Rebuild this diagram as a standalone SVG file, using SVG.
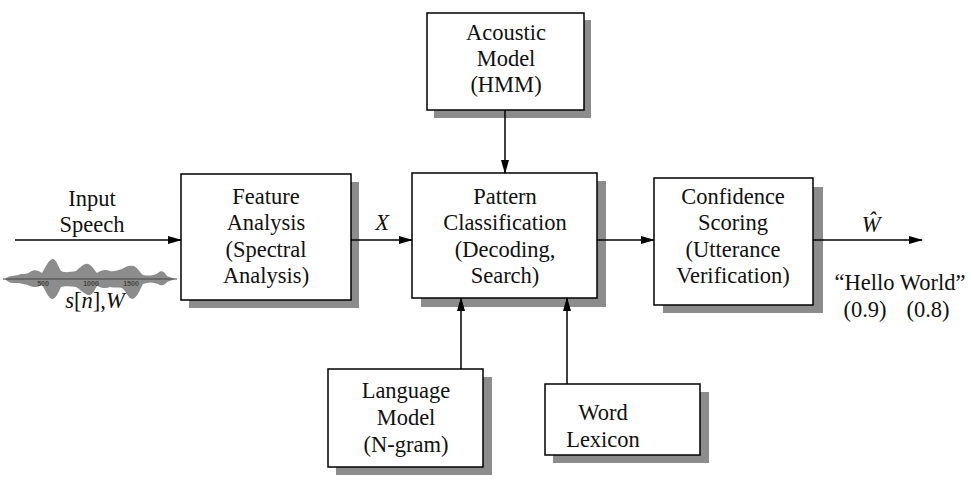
<svg xmlns="http://www.w3.org/2000/svg" width="973" height="480" viewBox="0 0 973 480">
<style>
.box{fill:#fff;stroke:#000;stroke-width:1.5}
.sh{fill:#8c8c8c}
.t{font-family:"Liberation Serif","Times New Roman",serif;font-size:22.5px;fill:#111;text-anchor:middle}
.i{font-style:italic}
.ln{stroke:#000;stroke-width:1.5;fill:none}
.wn{font-family:"Liberation Sans",Arial,sans-serif;font-size:7px;fill:#444;text-anchor:middle;font-weight:bold}
</style>
<defs>
<marker id="ah" markerWidth="14" markerHeight="10" refX="13" refY="5" orient="auto" markerUnits="userSpaceOnUse">
<path d="M0,1 L14,5 L0,9 Z" fill="#000"/>
</marker>
</defs>
<rect width="973" height="480" fill="#fff"/>

<g id="input" font-family="Liberation Serif, serif">
<text class="t" x="92" y="206">Input</text>
<text class="t" x="92" y="232">Speech</text>
<path d="M5,279 C10,275 14,276 18,275 C22,273 26,275 30,272 C34,269 38,270 42,273 C45,268 48,261 52,259 C56,258 58,266 61,271 C65,273 70,272 76,271 C80,268 84,263 88,264 C92,265 94,270 97,273 C101,270 106,269 110,271 C114,272 118,270 122,269 C126,266 130,265 134,266 C138,268 140,273 143,275 C148,276 153,276 158,273 C161,270 164,271 167,276 L175,279 L167,282 C164,286 161,286 158,284 C153,282 148,282 143,284 C140,289 137,299 132,299 C128,298 126,291 122,288 C118,287 114,288 110,287 C106,289 101,288 97,286 C94,291 92,296 88,295 C84,294 80,289 76,287 C70,286 64,286 61,287 C58,293 56,299 52,299 C48,298 45,289 42,285 C38,287 34,288 30,286 C26,284 22,284 18,283 C14,283 10,284 5,279 Z" fill="#8c8c8c"/>
<line x1="3" y1="279" x2="177" y2="279" stroke="#444" stroke-width="1.2"/>
<text class="wn" x="43" y="286">500</text>
<text class="wn" x="91" y="286">1000</text>
<text class="wn" x="131" y="286">1500</text>
<text class="t" x="95" y="308"><tspan class="i">s</tspan>[<tspan class="i">n</tspan>],<tspan class="i">W</tspan></text>
</g>

<g id="acoustic" font-family="Liberation Serif, serif">
<rect class="sh" x="434" y="20" width="157" height="98"/>
<rect class="box" x="427" y="13" width="157" height="97"/>
<text class="t" x="506" y="40">Acoustic</text>
<text class="t" x="506" y="66">Model</text>
<text class="t" x="506" y="92">(HMM)</text>
</g>

<g id="feature" font-family="Liberation Serif, serif">
<rect class="sh" x="189" y="182" width="170" height="126"/>
<rect class="box" x="181" y="174" width="170" height="126"/>
<text class="t" x="266" y="204">Feature</text>
<text class="t" x="266" y="230">Analysis</text>
<text class="t" x="266" y="257">(Spectral</text>
<text class="t" x="266" y="283">Analysis)</text>
</g>

<g id="pattern" font-family="Liberation Serif, serif">
<rect class="sh" x="421" y="181" width="185" height="126"/>
<rect class="box" x="412" y="173" width="185" height="125"/>
<text class="t" x="505" y="204">Pattern</text>
<text class="t" x="505" y="230">Classification</text>
<text class="t" x="505" y="257">(Decoding,</text>
<text class="t" x="505" y="283">Search)</text>
</g>

<g id="confidence" font-family="Liberation Serif, serif">
<rect class="sh" x="663" y="187" width="160" height="126"/>
<rect class="box" x="654" y="178" width="159" height="127"/>
<text class="t" x="733" y="204">Confidence</text>
<text class="t" x="733" y="230">Scoring</text>
<text class="t" x="733" y="257">(Utterance</text>
<text class="t" x="733" y="283">Verification)</text>
</g>

<g id="language" font-family="Liberation Serif, serif">
<rect class="sh" x="336" y="377" width="156" height="98"/>
<rect class="box" x="328" y="369" width="155" height="98"/>
<text class="t" x="406" y="398">Language</text>
<text class="t" x="406" y="425">Model</text>
<text class="t" x="406" y="452">(N-gram)</text>
</g>

<g id="lexicon" font-family="Liberation Serif, serif">
<rect class="sh" x="553" y="392" width="156" height="71"/>
<rect class="box" x="545" y="384" width="155" height="71"/>
<text class="t" x="603" y="420">Word</text>
<text class="t" x="603" y="447">Lexicon</text>
</g>

<g id="output" font-family="Liberation Serif, serif">
<text class="t i" x="871" y="232">Ŵ</text>
<text class="t" x="900" y="290">“Hello World”</text>
<text class="t" x="865" y="317">(0.9)</text>
<text class="t" x="928" y="317">(0.8)</text>
</g>

<g id="connectors">
<line class="ln" x1="15" y1="240" x2="181" y2="240" marker-end="url(#ah)"/>
<line class="ln" x1="351" y1="240" x2="412" y2="240" marker-end="url(#ah)"/>
<text class="t i" x="382" y="230">X</text>
<line class="ln" x1="597" y1="240" x2="654" y2="240" marker-end="url(#ah)"/>
<line class="ln" x1="813" y1="240" x2="922" y2="240" marker-end="url(#ah)"/>
<line class="ln" x1="505" y1="110" x2="505" y2="173" marker-end="url(#ah)"/>
<line class="ln" x1="461" y1="369" x2="461" y2="298" marker-end="url(#ah)"/>
<line class="ln" x1="567" y1="384" x2="567" y2="298" marker-end="url(#ah)"/>
</g>
</svg>
